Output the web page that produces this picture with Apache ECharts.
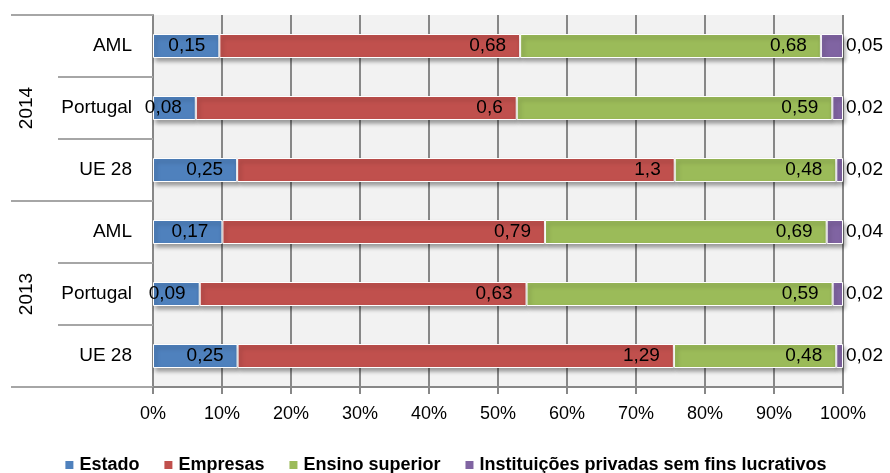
<!DOCTYPE html>
<html>
<head>
<meta charset="utf-8">
<script src="https://cdn.jsdelivr.net/npm/echarts@6/dist/echarts.min.js"></script>
<style>
html,body{margin:0;padding:0;background:#fff;}
#chart{width:890px;height:473px;}
</style>
</head>
<body>
<div id="chart"></div>
<script>
// Rows listed top to bottom
const categories = ['AML', 'Portugal', 'UE 28', 'AML', 'Portugal', 'UE 28'];
const years = ['2014', '2013'];
const seriesNames = ['Estado', 'Empresas', 'Ensino superior', 'Instituições privadas sem fins lucrativos'];
const estado = [0.15, 0.08, 0.25, 0.17, 0.09, 0.25];
const empresas = [0.68, 0.6, 1.3, 0.79, 0.63, 1.29];
const ensinoSuperior = [0.68, 0.59, 0.48, 0.69, 0.59, 0.48];
const instituicoes = [0.05, 0.02, 0.02, 0.04, 0.02, 0.02];
const xTicks = [0, 10, 20, 30, 40, 50, 60, 70, 80, 90, 100];

const raw = [estado, empresas, ensinoSuperior, instituicoes];
const totals = categories.map((_, i) => raw.reduce((s, arr) => s + arr[i], 0));
const colors = ['#4f81bd', '#c0504d', '#9bbb59', '#8064a2'];
const FONT = 'Liberation Sans';
const gridColor = '#878787';

const chart = echarts.init(document.getElementById('chart'), null, {renderer: 'canvas'});

const series = raw.map((arr, si) => ({
  name: seriesNames[si],
  type: 'bar',
  stack: 'total',
  barWidth: 24,
  yAxisIndex: 0,
  itemStyle: {
    color: colors[si],
    borderColor: '#ffffff',
    borderWidth: 1,
    shadowColor: 'rgba(0,0,0,0.35)',
    shadowBlur: 4,
    shadowOffsetX: 2,
    shadowOffsetY: 3
  },
  label: {
    show: true,
    position: si === 3 ? 'right' : 'insideRight',
    distance: si === 3 ? 3 : 14,
    color: '#000',
    fontFamily: FONT,
    fontSize: 19,
    formatter: p => String(arr[p.dataIndex]).replace('.', ',')
  },
  emphasis: {disabled: true},
  data: arr.map((v, i) => v / totals[i] * 100)
}));

const option = {
  animation: false,
  legend: {
    data: seriesNames,
    left: 'center',
    top: 451,
    icon: 'rect',
    itemWidth: 10,
    itemHeight: 10,
    itemGap: 23,
    textStyle: {fontFamily: FONT, fontSize: 18, fontWeight: 'bold', color: '#000'}
  },
  grid: {
    left: 153, right: 47, top: 15, bottom: 86,
    show: true, backgroundColor: '#f2f2f2', borderWidth: 0,
    containLabel: false
  },
  xAxis: {
    type: 'value',
    min: xTicks[0],
    max: xTicks[xTicks.length - 1],
    interval: 10,
    axisLine: {show: true, lineStyle: {color: gridColor, width: 2}},
    axisTick: {show: true, length: 7, lineStyle: {color: gridColor, width: 2}},
    splitLine: {show: true, lineStyle: {color: gridColor, width: 2}},
    axisLabel: {
      color: '#000', fontFamily: FONT, fontSize: 18, margin: 18,
      formatter: v => v + '%'
    }
  },
  yAxis: [
    {
      type: 'category',
      data: categories,
      inverse: true,
      position: 'left',
      axisLine: {show: true, lineStyle: {color: gridColor, width: 2}},
      axisTick: {show: true, length: 95, interval: 0, lineStyle: {color: '#a6a6a6', width: 2}},
      axisLabel: {color: '#000', fontFamily: FONT, fontSize: 19, margin: 21, interval: 0}
    },
    {
      type: 'category',
      data: years,
      inverse: true,
      position: 'left',
      offset: 0,
      axisLine: {show: false},
      axisTick: {show: true, length: 142, interval: 0, lineStyle: {color: '#a6a6a6', width: 2}},
      axisLabel: {color: '#000', fontFamily: FONT, fontSize: 19, margin: 117, rotate: 90, interval: 0}
    }
  ],
  series: series
};

chart.setOption(option);
</script>
</body>
</html>
